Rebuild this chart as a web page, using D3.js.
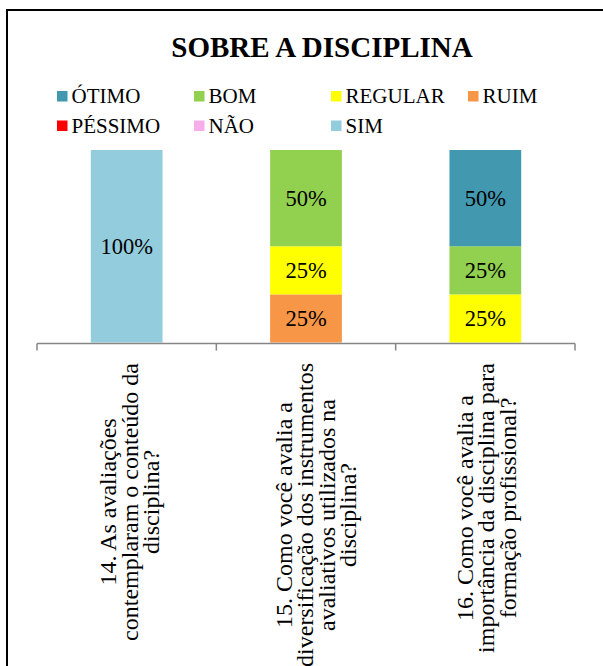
<!DOCTYPE html>
<html>
<head>
<meta charset="utf-8">
<script src="https://cdn.jsdelivr.net/npm/d3@7"></script>
<style>
  html, body { margin: 0; padding: 0; background: #fff; }
  svg { display: block; }
  text { font-family: "Liberation Serif", "Times New Roman", serif; fill: #000; }
</style>
</head>
<body>
<svg id="chart" width="603" height="666"></svg>
<script>
// ---- data ----
const title = "SOBRE A DISCIPLINA";
const categories = [
  "14. As avaliações contemplaram o conteúdo da disciplina?",
  "15. Como você avalia a diversificação dos instrumentos avaliativos utilizados na disciplina?",
  "16. Como você avalia a importância da disciplina para formação profissional?"
];
const categoryLines = [
  ["14. As avaliações", "contemplaram o conteúdo da", "disciplina?"],
  ["15. Como você avalia a", "diversificação dos instrumentos", "avaliativos utilizados na", "disciplina?"],
  ["16. Como você avalia a", "importância da disciplina para", "formação profissional?"]
];
const seriesNames = ["ÓTIMO", "BOM", "REGULAR", "RUIM", "PÉSSIMO", "NÃO", "SIM"];
const seriesColors = ["#4198AF", "#92D050", "#FFFF00", "#F79646", "#FF0000", "#F8ADEB", "#93CDDD"];
const otimo   = [0, 0, 0.50];
const bom     = [0, 0.50, 0.25];
const regular = [0, 0.25, 0.25];
const ruim    = [0, 0.25, 0];
const pessimo = [0, 0, 0];
const nao     = [0, 0, 0];
const sim     = [1.00, 0, 0];
const seriesValues = [otimo, bom, regular, ruim, pessimo, nao, sim];

// ---- build ----
const svg = d3.select("#chart");
const table = categories.map((c, i) => {
  const row = { category: c, idx: i };
  seriesNames.forEach((s, j) => row[s] = seriesValues[j][i]);
  return row;
});

// outer border
svg.append("rect")
  .attr("x", 7).attr("y", 10).attr("width", 640).attr("height", 700)
  .attr("fill", "none").attr("stroke", "#000").attr("stroke-width", 2);

// title
svg.append("text")
  .attr("x", 322).attr("y", 57)
  .attr("text-anchor", "middle")
  .attr("font-weight", "bold")
  .attr("font-size", 29)
  .text(title);

// legend
const legend = svg.append("g");
seriesNames.forEach((name, i) => {
  const col = i % 4, row = Math.floor(i / 4);
  const lx = 57 + col * 137, ly = 91 + row * 29.5;
  legend.append("rect")
    .attr("x", lx).attr("y", ly).attr("width", 10.5).attr("height", 10.5)
    .attr("fill", seriesColors[i]);
  legend.append("text")
    .attr("x", lx + 14.5).attr("y", ly + 12)
    .attr("font-size", 21)
    .text(name);
});

// scales
const x = d3.scaleBand()
  .domain(categories)
  .range([37, 575])
  .paddingInner(0.6)
  .paddingOuter(0.3);
const y = d3.scaleLinear().domain([0, 1]).range([342.5, 150]);
const color = d3.scaleOrdinal().domain(seriesNames).range(seriesColors);

// stack (bottom-up order is reverse of legend order)
const stackKeys = seriesNames.slice().reverse();
const stacked = d3.stack().keys(stackKeys)(table);

const bars = svg.append("g");
stacked.forEach(layer => {
  bars.append("g").selectAll("rect")
    .data(layer.filter(d => d[1] - d[0] > 0))
    .join("rect")
    .attr("x", d => x(d.data.category))
    .attr("width", x.bandwidth())
    .attr("y", d => y(d[1]))
    .attr("height", d => y(d[0]) - y(d[1]))
    .attr("fill", color(layer.key));
});

// data labels
const fmt = d3.format(".0%");
const labels = svg.append("g");
stacked.forEach(layer => {
  labels.append("g").selectAll("text")
    .data(layer.filter(d => d[1] - d[0] > 0))
    .join("text")
    .attr("x", d => x(d.data.category) + x.bandwidth() / 2)
    .attr("y", d => (y(d[0]) + y(d[1])) / 2)
    .attr("dy", "0.35em")
    .attr("text-anchor", "middle")
    .attr("font-size", 22.5)
    .text(d => fmt(d[1] - d[0]));
});

// category axis (line + ticks at band boundaries)
const axisY = 343.5;
const step = x.step();
const x0 = x.range()[0];
const tickPos = d3.range(categories.length + 1).map(i => x0 + i * step);
const axis = svg.append("g");
axis.append("line")
  .attr("x1", x0).attr("x2", x.range()[1])
  .attr("y1", axisY).attr("y2", axisY)
  .attr("stroke", "#868686").attr("stroke-width", 1.5);
axis.selectAll("line.tick")
  .data(tickPos)
  .join("line")
  .attr("class", "tick")
  .attr("x1", d => d).attr("x2", d => d)
  .attr("y1", axisY).attr("y2", axisY + 7)
  .attr("stroke", "#868686").attr("stroke-width", 1.5);

// rotated category labels
const lineGap = 21.5;
const labelTop = 363;
const labelShift = [3, 10, 1];
categories.forEach((c, i) => {
  const lines = categoryLines[i];
  const cx = x(c) + x.bandwidth() / 2 + labelShift[i];
  const g = svg.append("g");
  const texts = lines.map((ln, j) => {
    const lxp = cx + (j - (lines.length - 1) / 2) * lineGap;
    return g.append("text")
      .attr("font-size", 24)
      .attr("text-anchor", "middle")
      .attr("dy", "0.33em")
      .attr("data-x", lxp)
      .text(ln);
  });
  const maxLen = d3.max(texts, t => t.node().getComputedTextLength());
  const midY = labelTop + maxLen / 2;
  texts.forEach(t => {
    const lxp = +t.attr("data-x");
    t.attr("transform", `translate(${lxp},${midY}) rotate(-90)`);
  });
});
</script>
</body>
</html>
